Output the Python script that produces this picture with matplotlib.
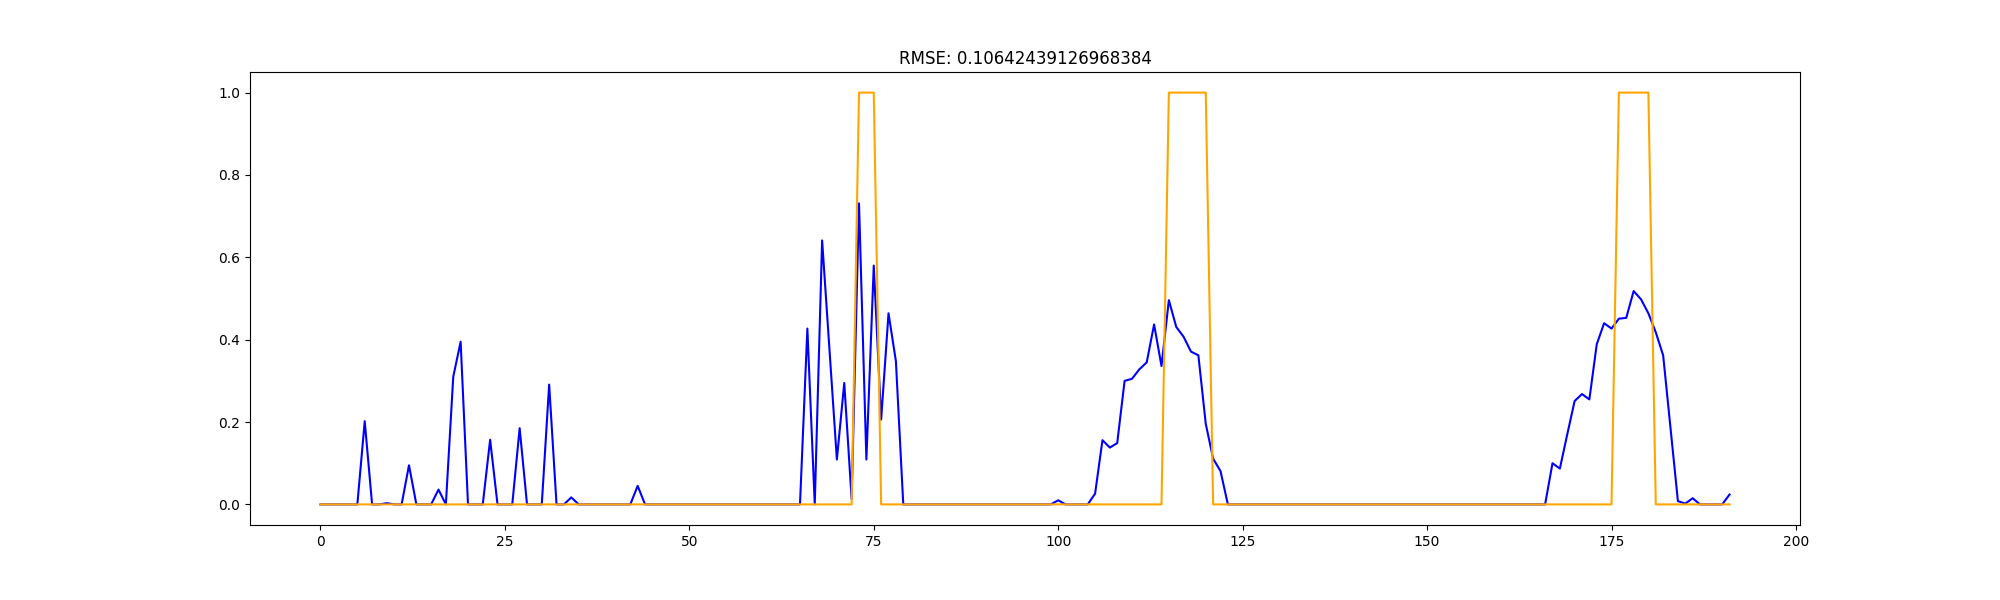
import matplotlib
matplotlib.use("Agg")
import matplotlib.pyplot as plt

# predicted values, one per time step (0..191)
predicted = [
    0, 0, 0, 0, 0, 0, 0.202, 0, 0, 0.003, 0, 0, 0.095, 0, 0, 0,
    0.036, 0, 0.31, 0.395, 0, 0, 0, 0.157, 0, 0, 0, 0.185, 0, 0, 0, 0.291,
    0, 0, 0.017, 0, 0, 0, 0, 0, 0, 0, 0, 0.045, 0, 0, 0, 0,
    0, 0, 0, 0, 0, 0, 0, 0, 0, 0, 0, 0, 0, 0, 0, 0,
    0, 0, 0.427, 0, 0.641, 0.375, 0.109, 0.295, 0.013, 0.731, 0.109, 0.58, 0.206, 0.464, 0.348, 0,
    0, 0, 0, 0, 0, 0, 0, 0, 0, 0, 0, 0, 0, 0, 0, 0,
    0, 0, 0, 0, 0.01, 0, 0, 0, 0, 0.026, 0.156, 0.138, 0.149, 0.30, 0.305, 0.328,
    0.345, 0.437, 0.336, 0.496, 0.431, 0.407, 0.371, 0.362, 0.196, 0.111, 0.081, 0, 0, 0, 0, 0,
    0, 0, 0, 0, 0, 0, 0, 0, 0, 0, 0, 0, 0, 0, 0, 0,
    0, 0, 0, 0, 0, 0, 0, 0, 0, 0, 0, 0, 0, 0, 0, 0,
    0, 0, 0, 0, 0, 0, 0, 0.10, 0.087, 0.17, 0.251, 0.268, 0.255, 0.389, 0.44, 0.427,
    0.451, 0.453, 0.518, 0.498, 0.464, 0.418, 0.362, 0.185, 0.008, 0.002, 0.015, 0, 0, 0, 0, 0.024,
]

# ground truth labels
actual = [
    0, 0, 0, 0, 0, 0, 0, 0, 0, 0, 0, 0, 0, 0, 0, 0,
    0, 0, 0, 0, 0, 0, 0, 0, 0, 0, 0, 0, 0, 0, 0, 0,
    0, 0, 0, 0, 0, 0, 0, 0, 0, 0, 0, 0, 0, 0, 0, 0,
    0, 0, 0, 0, 0, 0, 0, 0, 0, 0, 0, 0, 0, 0, 0, 0,
    0, 0, 0, 0, 0, 0, 0, 0, 0, 1, 1, 1, 0, 0, 0, 0,
    0, 0, 0, 0, 0, 0, 0, 0, 0, 0, 0, 0, 0, 0, 0, 0,
    0, 0, 0, 0, 0, 0, 0, 0, 0, 0, 0, 0, 0, 0, 0, 0,
    0, 0, 0, 1, 1, 1, 1, 1, 1, 0, 0, 0, 0, 0, 0, 0,
    0, 0, 0, 0, 0, 0, 0, 0, 0, 0, 0, 0, 0, 0, 0, 0,
    0, 0, 0, 0, 0, 0, 0, 0, 0, 0, 0, 0, 0, 0, 0, 0,
    0, 0, 0, 0, 0, 0, 0, 0, 0, 0, 0, 0, 0, 0, 0, 0,
    1, 1, 1, 1, 1, 0, 0, 0, 0, 0, 0, 0, 0, 0, 0, 0,
]

rmse_text = "RMSE: 0.10642439126968384"

plt.figure(figsize=(20, 6), dpi=100)
plt.subplots_adjust(bottom=0.125)
plt.plot(predicted, color="blue")
plt.plot(actual, color="orange")
plt.title(rmse_text)
plt.savefig("out.png")
